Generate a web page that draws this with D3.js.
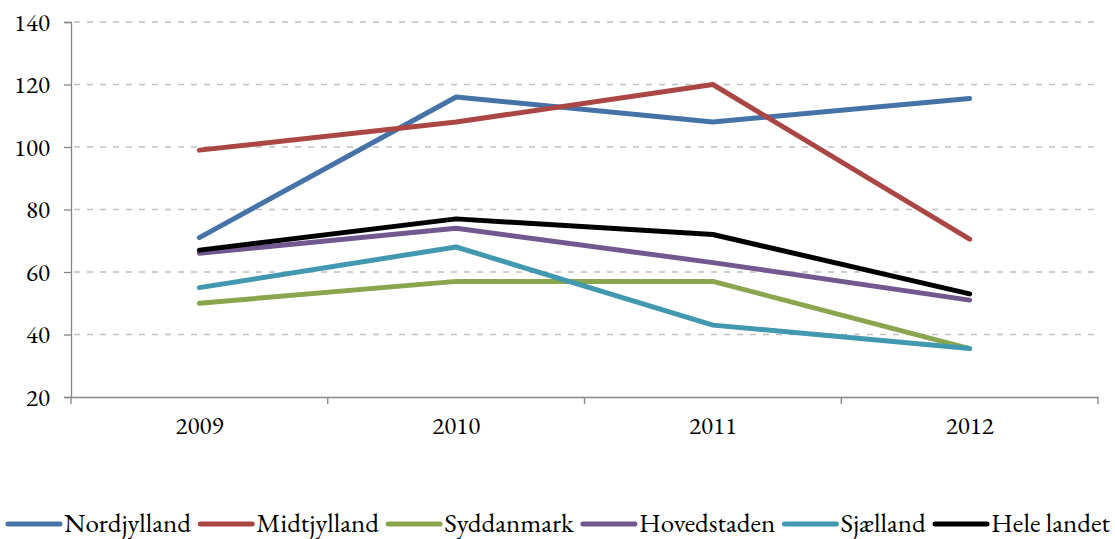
<!DOCTYPE html>
<html lang="en">

<head>
    <meta charset="UTF-8">
    <title>regioner 2009-2012</title>
    <style>
        body {
            margin: 0;
            background: #fff;
        }
    </style>
</head>

<body>
    <svg width="1115" height="539"></svg>
    <script src="https://d3js.org/d3.v7.min.js"></script>
    <script>
        let years = ["2009", "2010", "2011", "2012"];
        let yTicks = [20, 40, 60, 80, 100, 120, 140];

        let nordjylland = [71, 116, 108, 115.5];
        let midtjylland = [99, 108, 120, 70.5];
        let syddanmark = [50, 57, 57, 35.5];
        let hovedstaden = [66, 74, 63, 51];
        let sjaelland = [55, 68, 43, 35.5];
        let heleLandet = [67, 77, 72, 53];

        let seriesNames = ["Nordjylland", "Midtjylland", "Syddanmark", "Hovedstaden", "Sjælland", "Hele landet"];
        let seriesValues = [nordjylland, midtjylland, syddanmark, hovedstaden, sjaelland, heleLandet];
        let colors = ["#4572a7", "#aa4643", "#89a54e", "#71588f", "#4198af", "#000000"];

        const serif = "\"EB Garamond\", \"Liberation Serif\", serif";
        const tickSize = "25px";
        const legendSize = "27px";

        let svg = d3.select("svg"),
            margin = { left: 71, right: 17, top: 22, bottom: 142 },
            width = +svg.attr("width") - margin.left - margin.right,
            height = +svg.attr("height") - margin.top - margin.bottom;

        let g = svg.append("g").attr("transform", `translate(${margin.left},${margin.top})`);

        let x = d3.scaleBand().domain(years).range([0, width]);
        let y = d3.scaleLinear().domain([20, 140]).range([height, 0]);

        // grid
        g.append("g")
            .selectAll("line")
            .data(yTicks.filter(d => d > 20))
            .join("line")
            .attr("x1", 0)
            .attr("x2", width)
            .attr("y1", d => y(d))
            .attr("y2", d => y(d))
            .attr("stroke", "#c0c0c0")
            .attr("stroke-width", 1.3)
            .attr("stroke-dasharray", "6,7")
            .attr("stroke-dashoffset", -3);

        // y axis
        let yAxis = g.append("g")
            .call(d3.axisLeft(y).tickValues(yTicks).tickSize(7).tickPadding(14));
        yAxis.selectAll("text").style("font-family", serif).style("font-size", tickSize).attr("fill", "#000");
        yAxis.select(".domain").attr("stroke", "#868686").attr("stroke-width", 1.3);
        yAxis.selectAll(".tick line").attr("stroke", "#868686").attr("stroke-width", 1.3);

        // x axis
        let xAxis = g.append("g")
            .attr("transform", `translate(0,${height})`)
            .call(d3.axisBottom(x).tickSize(0).tickPadding(19));
        xAxis.selectAll("text").style("font-family", serif).style("font-size", tickSize).attr("fill", "#000");
        xAxis.select(".domain").attr("stroke", "#868686").attr("stroke-width", 1.3);
        xAxis.selectAll(".bound")
            .data(d3.range(years.length + 1))
            .join("line")
            .attr("class", "bound")
            .attr("x1", i => i * x.bandwidth())
            .attr("x2", i => i * x.bandwidth())
            .attr("y1", 0)
            .attr("y2", 7)
            .attr("stroke", "#868686")
            .attr("stroke-width", 1.3);

        let line = d3.line()
            .x((d, i) => x(years[i]) + x.bandwidth() / 2)
            .y(d => y(d));

        g.append("g")
            .selectAll("path")
            .data(seriesValues)
            .join("path")
            .attr("d", d => line(d))
            .attr("fill", "none")
            .attr("stroke", (d, i) => colors[i])
            .attr("stroke-width", 5)
            .attr("stroke-linecap", "round")
            .attr("stroke-linejoin", "round");

        // legend
        let legend = svg.append("g").attr("transform", "translate(0,524)");
        let items = legend.selectAll("g")
            .data(seriesNames)
            .join("g");
        items.append("line")
            .attr("x1", 0)
            .attr("x2", 52)
            .attr("y1", 0)
            .attr("y2", 0)
            .attr("stroke", (d, i) => colors[i])
            .attr("stroke-width", 5)
            .attr("stroke-linecap", "round");
        items.append("text")
            .attr("x", 56)
            .attr("dy", "0.3em")
            .attr("fill", "#000")
            .style("font-family", serif)
            .style("font-size", legendSize)
            .text(d => d);

        let widths = [];
        items.each(function () {
            widths.push(56 + d3.select(this).select("text").node().getComputedTextLength());
        });
        let gap = Math.max(4, Math.min(14, (1102 - d3.sum(widths)) / (widths.length - 1)));
        let total = d3.sum(widths) + gap * (widths.length - 1);
        let pos = (1118 - total) / 2;
        items.attr("transform", (d, i) => {
            let p = pos;
            pos += widths[i] + gap;
            return `translate(${p},0)`;
        });
    </script>

</body>

</html>
